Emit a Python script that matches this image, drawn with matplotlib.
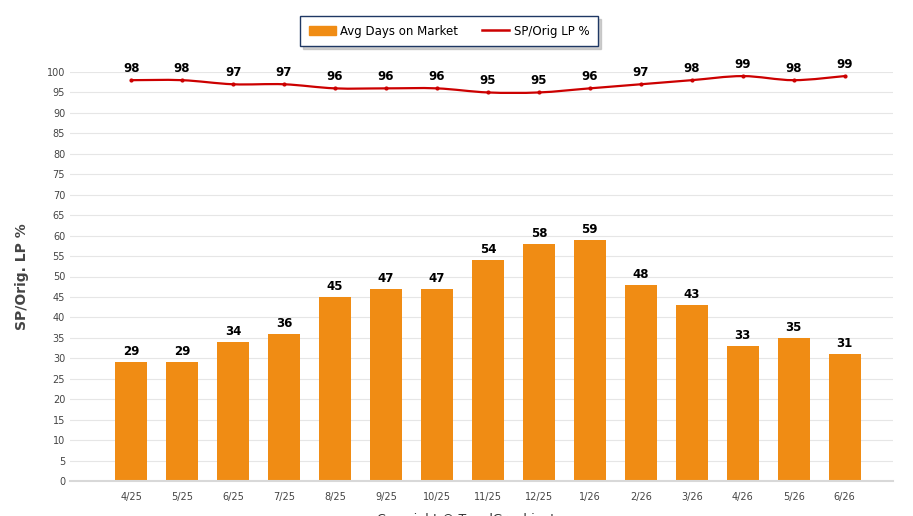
import matplotlib.pyplot as plt
import numpy as np
from matplotlib.path import Path
from matplotlib.patches import PathPatch, Patch
from matplotlib.lines import Line2D

months = ["4/25", "5/25", "6/25", "7/25", "8/25", "9/25", "10/25", "11/25",
          "12/25", "1/26", "2/26", "3/26", "4/26", "5/26", "6/26"]
days_on_market = [29, 29, 34, 36, 45, 47, 47, 54, 58, 59, 48, 43, 33, 35, 31]
sp_orig_lp = [98, 98, 97, 97, 96, 96, 96, 95, 95, 96, 97, 98, 99, 98, 99]

BAR_COLOR = "#f08c14"
LINE_COLOR = "#cc0000"


def smooth_path(x, y, tension=1 / 6):
    # Catmull-Rom style bezier through the points
    verts = [(x[0], y[0])]
    codes = [Path.MOVETO]
    n = len(x)
    for i in range(n - 1):
        p0 = (x[max(i - 1, 0)], y[max(i - 1, 0)])
        p1 = (x[i], y[i])
        p2 = (x[i + 1], y[i + 1])
        p3 = (x[min(i + 2, n - 1)], y[min(i + 2, n - 1)])
        c1 = (p1[0] + (p2[0] - p0[0]) * tension, p1[1] + (p2[1] - p0[1]) * tension)
        c2 = (p2[0] - (p3[0] - p1[0]) * tension, p2[1] - (p3[1] - p1[1]) * tension)
        verts += [c1, c2, p2]
        codes += [Path.CURVE4, Path.CURVE4, Path.CURVE4]
    return Path(verts, codes)


fig = plt.figure(figsize=(9.13, 5.16), dpi=100)
ax = fig.add_axes([70 / 913, 1 - 481 / 516, 823 / 913, (481 - 72) / 516])

x = np.arange(len(months))
bars = ax.bar(x, days_on_market, width=0.63, color=BAR_COLOR, zorder=2)
for rect, v in zip(bars, days_on_market):
    ax.annotate(f"{v}", (rect.get_x() + rect.get_width() / 2, v),
                xytext=(0, 3), textcoords="offset points",
                ha="center", va="bottom", fontsize=8.5, fontweight="bold")

ax.add_patch(PathPatch(smooth_path(x, sp_orig_lp), fill=False,
                       edgecolor=LINE_COLOR, lw=1.6, zorder=3, clip_on=False))
ax.plot(x, sp_orig_lp, ls="none", marker="o", ms=2, color=LINE_COLOR,
        zorder=4, clip_on=False)
for xi, v in zip(x, sp_orig_lp):
    ax.annotate(f"{v}", (xi, v), xytext=(0, 4), textcoords="offset points",
                ha="center", va="bottom", fontsize=8.5, fontweight="bold",
                annotation_clip=False)

ax.set_xlim(-1.2, 14.95)
ax.set_ylim(0, 100)
ax.set_yticks(np.arange(0, 101, 5))
ax.set_xticks(x)
ax.set_xticklabels(months)
ax.tick_params(axis="both", labelsize=7, colors="#444444", length=0)
ax.tick_params(axis="x", pad=8)
ax.grid(axis="y", color="#e6e6e6", lw=0.8, zorder=0)
ax.set_axisbelow(True)
for s in ["top", "right", "left"]:
    ax.spines[s].set_visible(False)
ax.spines["bottom"].set_color("#d8d8d8")
ax.spines["bottom"].set_linewidth(1.5)

ax.set_ylabel("SP/Orig. LP %", fontsize=10, fontweight="bold", color="#444444",
              labelpad=13)

handles = [Patch(color=BAR_COLOR, label="Avg Days on Market"),
           Line2D([0], [0], color=LINE_COLOR, lw=1.8, label="SP/Orig LP %")]
leg = fig.legend(handles=handles, loc="center", bbox_to_anchor=(449 / 913, 1 - 31 / 516),
                 ncol=2, fontsize=8.5, frameon=True, fancybox=False, shadow=False,
                 framealpha=1, facecolor="white",
                 handlelength=2.3, handleheight=0.9, handletextpad=0.4,
                 columnspacing=2.0, borderpad=0.7, borderaxespad=0)
frame = leg.get_frame()
frame.set_edgecolor("#1f3864")
frame.set_linewidth(1.0)
leg.set_zorder(5)

# soft drop shadow behind the legend box
fig.canvas.draw()
bb = leg.get_window_extent().transformed(fig.transFigure.inverted())
fig.patches.append(plt.Rectangle((bb.x0 + 3 / 913, bb.y0 - 3 / 516), bb.width, bb.height,
                                 transform=fig.transFigure, color="#b0b0b0",
                                 zorder=1, alpha=0.6))

fig.text(475 / 913, 1 - 520 / 516, "Copyright © TrendGraphix, Inc.",
         ha="center", va="center", fontsize=9, color="#333333")

fig.savefig("out.png", dpi=100)
